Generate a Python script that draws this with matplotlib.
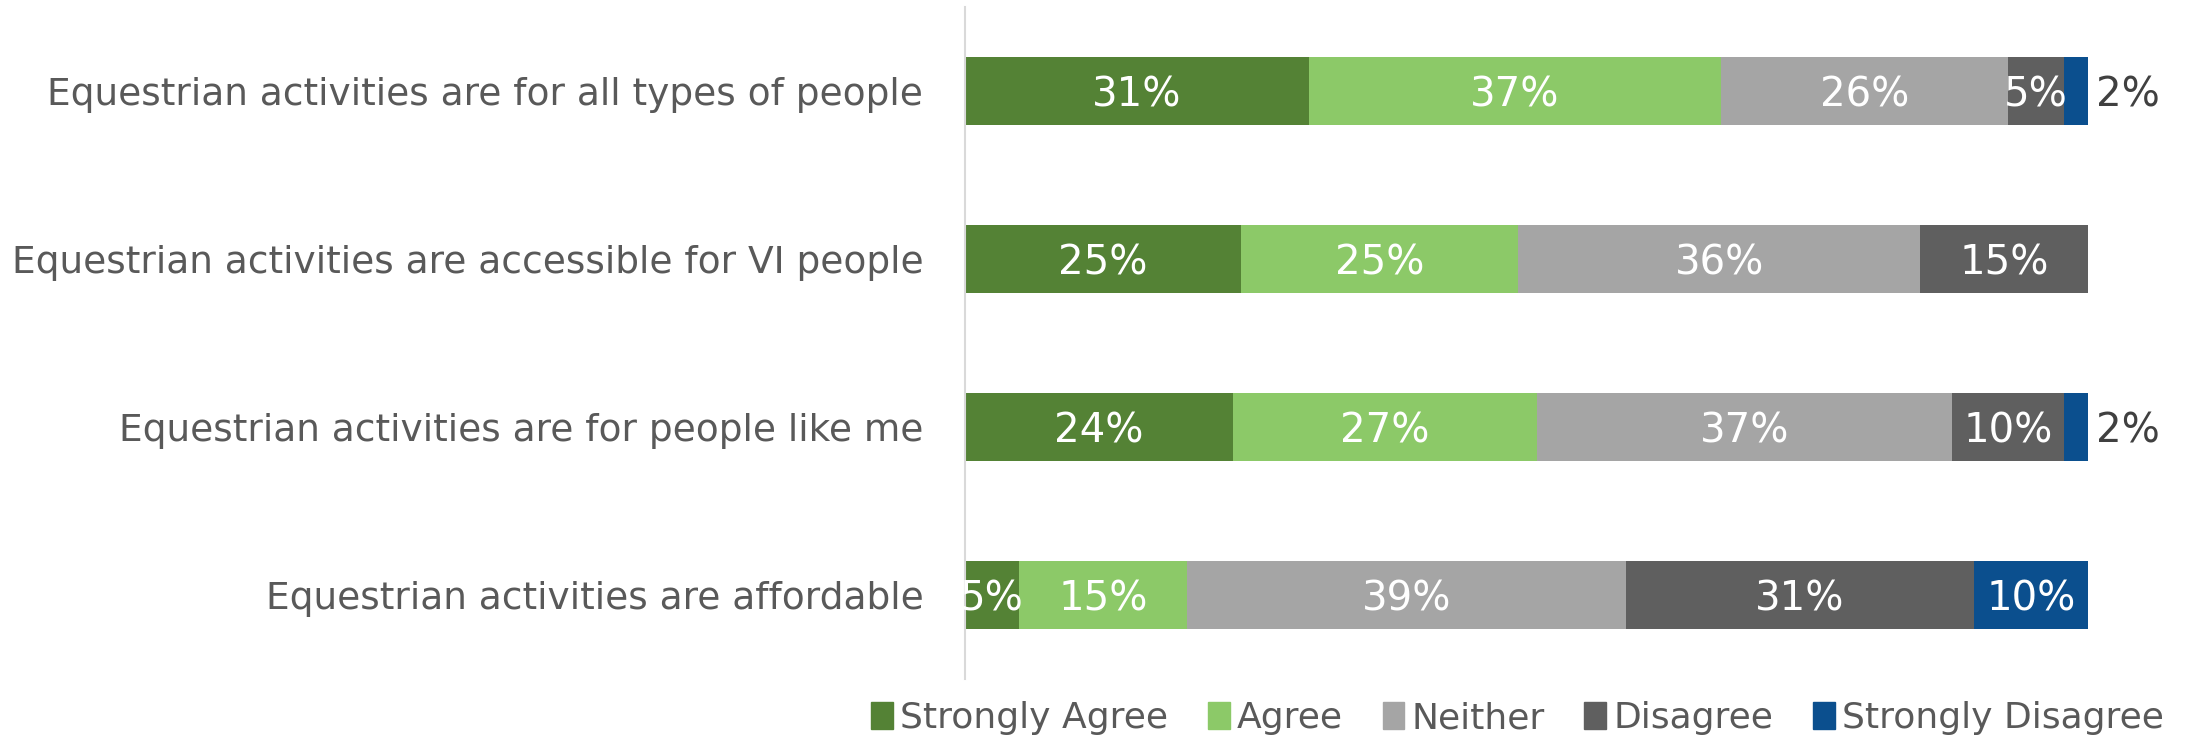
import matplotlib
matplotlib.use('Agg')
import matplotlib.pyplot as plt
import matplotlib.patches as mpatches
import numpy as np

categories = ['Equestrian activities are for all types of people',
              'Equestrian activities are accessible for VI people',
              'Equestrian activities are for people like me',
              'Equestrian activities are affordable']
series = ['Strongly Agree', 'Agree', 'Neither', 'Disagree', 'Strongly Disagree']
strongly_agree = [30.7, 24.6, 23.9, 4.8]
agree = [36.8, 24.7, 27.1, 15.0]
neither = [25.6, 35.8, 37.0, 39.0]
disagree = [5.0, 14.9, 10.0, 31.0]
strongly_disagree = [2.1, 0.0, 2.1, 10.1]
colors = ['#548235', '#8cc968', '#a5a5a5', '#5f5f5f', '#0b4f8e']

data = np.array([strongly_agree, agree, neither, disagree, strongly_disagree])
data = data / data.sum(axis=0) * 100

plt.rcParams['font.family'] = ['DejaVu Sans']
fig = plt.figure(figsize=(21.93, 7.41), dpi=100)
ax = fig.add_axes([0.440, 0.0837, 0.512, 0.907])

y = np.arange(len(categories))
left = np.zeros(len(categories))
for i, name in enumerate(series):
    ax.barh(y, data[i], left=left, height=0.4, color=colors[i], label=name)
    for j in range(len(categories)):
        v = data[i][j]
        if v <= 0:
            continue
        txt = '%d%%' % round(v)
        if v < 3:
            # small slices get the label outside the bar
            ax.annotate(txt, (left[j] + v, y[j]), xytext=(6, 0), textcoords='offset points',
                        ha='left', va='center_baseline', fontsize=29, color='#404040')
        else:
            ax.text(left[j] + v / 2, y[j], txt, ha='center', va='center_baseline',
                    fontsize=29, color='white')
    left = left + data[i]

ax.set_xlim(0, 100)
ax.set_ylim(len(categories) - 0.5, -0.5)
ax.set_yticks(y)
ax.set_yticklabels(categories, fontsize=27, color='#595959')
ax.tick_params(axis='y', length=0, pad=30)
ax.set_xticks([])
for s in ['top', 'right', 'bottom']:
    ax.spines[s].set_visible(False)
ax.spines['left'].set_color('#d9d9d9')
ax.spines['left'].set_linewidth(1.5)

handles = [mpatches.Patch(color=colors[i], label=series[i]) for i in range(len(series))]
leg = fig.legend(handles=handles, loc='center', bbox_to_anchor=(0.692, 0.031), ncol=5,
                 frameon=False, fontsize=26, handlelength=0.6, handleheight=0.8,
                 handletextpad=0.2, columnspacing=1.1, labelcolor='#595959')

plt.savefig('out.png', dpi=100)
plt.close()
